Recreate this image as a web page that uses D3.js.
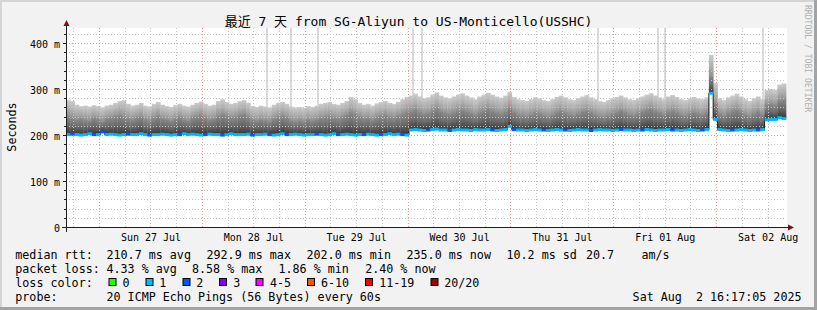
<!DOCTYPE html>
<html>
<head>
<meta charset="utf-8">
<script src="https://cdn.jsdelivr.net/npm/d3@7"></script>
<style>
  html, body { margin: 0; padding: 0; background: #f2f2f2; }
  svg { display: block; }
  text { font-family: "DejaVu Sans Mono", "Noto Sans CJK SC", monospace; white-space: pre; }
</style>
</head>
<body>
<div id="canvas"></div>
<script>
// time span of the graph (last 7 days), one column per hour
const startTime = new Date("2025-07-26T16:17:05Z");
const endTime = new Date("2025-08-02T16:17:05Z");

// median rtt per hour (ms)
const median = [
  203,204,203,202,203,205,203,203, 209,203,204,203,202,203,204,203,
  203,205,203,202,203,203,204,203, 202,203,203,205,203,204,203,202,
  203,204,203,203,202,203,205,203, 203,203,204,202,203,203,204,203,
  202,203,205,203,203,204,203,202, 203,203,204,203,202,203,205,203,
  203,204,203,202,203,203,204,203, 202,203,203,205,203,204,203,202,
  213,214,213,212,213,214,215,213, 213,212,213,214,213,213,212,214,
  213,213,214,213,212,213,214,221,
  214,213,213,212,213,214,213,213, 212,213,214,213,213,212,213,214,
  213,213,212,213,214,213,213,212, 213,214,213,213,212,213,213,214,
  213,212,213,213,214,213,213,212, 213,214,213,212,213,214,
  293,236,
  214,213,212,213,213,214,213,212,213,213,214,
  235,236,236,240,238
];

// middle of the smoke (dense part) per hour (ms)
const smokeMid = [
  245,240,236,238,235,234,240,236, 232,238,240,244,246,242,238,236,
  240,243,236,234,240,244,238,236, 233,238,242,236,234,240,243,246,
  240,236,238,245,248,244,240,242, 246,248,242,236,233,236,234,232,
  238,242,244,240,234,232,234,231, 236,234,236,240,242,244,240,238,
  242,246,252,248,242,238,240,236, 241,244,246,242,240,244,248,252,
  254,258,252,248,250,256,260,254, 250,248,252,256,258,254,250,246,
  252,256,260,256,252,249,254,262,
  252,247,245,243,247,251,249,245, 243,247,252,255,251,247,245,249,
  253,256,251,247,243,241,245,249, 252,255,251,247,245,249,253,257,
  260,255,251,247,253,256,252,247, 245,249,252,249,247,251,
  330,272,
  249,245,251,255,258,253,247,243,249,253,247,
  268,270,268,278,280
];

// highest ping of the smoke per hour (ms)
const smokeTop = [
  278,276,268,265,266,264,267,265, 262,266,268,272,276,278,270,266,
  268,272,266,264,270,274,268,265, 263,267,270,266,264,268,272,275,
  270,266,268,276,280,274,270,272, 276,278,272,265,263,266,264,262,
  268,272,274,270,264,262,263,261, 265,263,266,270,272,274,270,268,
  272,276,285,280,272,268,270,266, 271,274,276,272,270,274,280,285,
  288,292,286,282,284,290,295,288, 284,282,286,290,293,288,284,280,
  286,290,294,290,286,283,288,296,
  285,280,278,276,280,284,282,278, 276,280,285,288,284,280,278,282,
  286,289,284,280,276,274,278,282, 285,288,284,280,278,282,286,290,
  293,288,284,280,286,289,285,280, 278,282,285,282,280,284,
  376,315,
  282,278,284,288,292,286,280,276,282,286,280,
  300,302,300,312,314
];

// lost pings (of 20) per hour
const loss = [
  1,2,1,1,1,1,2,1,2,1,1,1,1,1,2,1,1,1,1,2,1,1,1,1,
  1,1,2,1,1,1,1,1,2,1,1,1,2,1,1,1,1,1,1,2,1,1,1,2,
  1,1,1,2,1,1,1,1,1,1,2,1,1,1,1,2,1,1,1,1,1,2,1,1,
  1,2,1,1,1,1,2,1,1,1,1,1,2,1,1,1,1,2,1,1,1,1,1,1,
  1,1,1,2,1,1,1,1,2,1,1,1,1,1,1,2,1,1,1,1,2,1,1,1,
  1,1,2,1,1,1,1,1,1,2,1,1,1,1,2,1,1,1,1,1,1,2,1,1,
  1,1,1,1,2,1,1,1,1,1,1,2,1,1,1,1,1,2,1,1,1,1,1,1
];

// single pings above the top of the graph
const outliers = [
  "2025-07-28T15:10:00Z", "2025-07-28T20:45:00Z", "2025-07-29T03:05:00Z",
  "2025-07-30T01:15:00Z", "2025-07-30T03:20:00Z", "2025-07-31T20:20:00Z",
  "2025-08-01T10:20:00Z", "2025-08-01T12:05:00Z", "2025-08-02T10:50:00Z"
];

const yTicks = [0, 100, 200, 300, 400];
const dayTicks = ["2025-07-27", "2025-07-28", "2025-07-29", "2025-07-30", "2025-07-31", "2025-08-01", "2025-08-02"];

const lossLabels = ["0", "1", "2", "3", "4-5", "6-10", "11-19", "20/20"];
const lossLimits = [0, 1, 2, 3, 5, 10, 19, 20];
const lossColors = ["#26ff00", "#00b8ff", "#0059ff", "#7e00ff", "#ff00ff", "#ff5500", "#ff0000", "#a10000"];

const rttStats = ["210.7 ms avg", "292.9 ms max", "202.0 ms min", "235.0 ms now", "10.2 ms sd", "20.7", "am/s"];
const lossStats = ["4.33 % avg", "8.58 % max", "1.86 % min", "2.40 % now"];
const probeText = "20 ICMP Echo Pings (56 Bytes) every 60s";
const stampText = "Sat Aug  2 16:17:05 2025";
const title = "最近 7 天 from SG-Aliyun to US-Monticello(USSHC)";

const width = 817;
const height = 310;
const left = 66, right = 786, top0 = 28, bottom = 228;

const svg = d3.select("#canvas").append("svg")
  .attr("width", width)
  .attr("height", height);

// background + frame
svg.append("rect").attr("width", width).attr("height", height).attr("fill", "#f2f2f2");
svg.append("rect").attr("x", 0).attr("y", 0).attr("width", width).attr("height", 2).attr("fill", "#d4d4d4");
svg.append("rect").attr("x", 0).attr("y", 0).attr("width", 2).attr("height", height).attr("fill", "#d4d4d4");
svg.append("rect").attr("x", 0).attr("y", height - 3).attr("width", width).attr("height", 3).attr("fill", "#a3a3a3");
svg.append("rect").attr("x", width - 3).attr("y", 0).attr("width", 3).attr("height", height).attr("fill", "#a3a3a3");

const x = d3.scaleUtc().domain([startTime, endTime]).range([left, right]);
const y = d3.scaleLinear().domain([0, 200 / 0.46]).range([bottom, top0]);

const hour = 3600 * 1000;
const times = median.map((d, i) => new Date(+startTime + i * hour));

svg.append("rect")
  .attr("x", left).attr("y", top0)
  .attr("width", right - left + 1).attr("height", bottom - top0)
  .attr("fill", "#ffffff");

const defs = svg.append("defs");
function gradient(id, stops) {
  const gr = defs.append("linearGradient").attr("id", id)
    .attr("x1", 0).attr("y1", 0).attr("x2", 0).attr("y2", 1);
  stops.forEach(s => gr.append("stop").attr("offset", s[0]).attr("stop-color", s[1]));
}
gradient("smokeHi", [[0, "#cbcbcb"], [0.5, "#b0b0b0"], [1, "#8e8e8e"]]);
gradient("smokeLo", [[0, "#8a8a8a"], [0.5, "#6a6a6a"], [0.85, "#454545"], [1, "#2c2c2c"]]);

const g = svg.append("g");

// outlier pings: light bars reaching the top
g.selectAll(".outlier")
  .data(outliers.map(d => new Date(d)))
  .enter()
  .append("rect")
  .attr("x", d => Math.round(x(d)) - 1)
  .attr("y", top0)
  .attr("width", 2)
  .attr("height", d => {
    const i = Math.min(median.length - 1, Math.floor((d - startTime) / hour));
    return y(median[i]) - top0;
  })
  .attr("fill", "#dadada");

const colW = d => x(new Date(+d + hour)) - x(d) + 0.4;

// smoke: light upper part, dense lower part
g.selectAll(".smokeHi")
  .data(times)
  .enter()
  .append("rect")
  .attr("x", d => x(d))
  .attr("width", colW)
  .attr("y", (d, i) => y(smokeTop[i]))
  .attr("height", (d, i) => y(smokeMid[i]) - y(smokeTop[i]) + 0.5)
  .attr("fill", "url(#smokeHi)");

g.selectAll(".smokeLo")
  .data(times)
  .enter()
  .append("rect")
  .attr("x", d => x(d))
  .attr("width", colW)
  .attr("y", (d, i) => y(smokeMid[i]))
  .attr("height", (d, i) => y(median[i]) - y(smokeMid[i]))
  .attr("fill", "url(#smokeLo)");

// grid
const grid = svg.append("g");
const minorY = d3.range(20, 440, 20).filter(v => v % 100 !== 0);
grid.selectAll(".hminor").data(minorY).enter().append("line")
  .attr("x1", left).attr("x2", right)
  .attr("y1", d => Math.round(y(d)) - 0.5).attr("y2", d => Math.round(y(d)) - 0.5)
  .attr("stroke", "#c4c4c4").attr("stroke-dasharray", "1,2");
const sixHours = d3.utcHour.every(6).range(startTime, endTime).filter(d => d.getUTCHours() !== 0);
grid.selectAll(".vminor").data(sixHours).enter().append("line")
  .attr("x1", d => Math.round(x(d)) + 0.5).attr("x2", d => Math.round(x(d)) + 0.5)
  .attr("y1", top0).attr("y2", bottom)
  .attr("stroke", "#c4c4c4").attr("stroke-dasharray", "1,2");
grid.selectAll(".hmajor").data(yTicks.filter(v => v > 0)).enter().append("line")
  .attr("x1", left).attr("x2", right)
  .attr("y1", d => Math.round(y(d)) - 0.5).attr("y2", d => Math.round(y(d)) - 0.5)
  .attr("stroke", "#e79a9a").attr("stroke-dasharray", "1,2");
const midnights = d3.utcDay.range(startTime, endTime);
grid.selectAll(".vmajor").data(midnights).enter().append("line")
  .attr("x1", d => Math.round(x(d)) + 0.5).attr("x2", d => Math.round(x(d)) + 0.5)
  .attr("y1", top0).attr("y2", bottom)
  .attr("stroke", "#e79a9a").attr("stroke-dasharray", "1,2");

// median line (step) and loss coloured blocks
const pts = times.map((d, i) => [x(d), y(median[i])]);
pts.push([x(endTime), y(median[median.length - 1])]);
svg.append("path")
  .attr("d", d3.line().curve(d3.curveStepAfter)(pts))
  .attr("fill", "none")
  .attr("stroke", "#202020")
  .attr("stroke-width", 1);

const lossColor = n => lossColors[lossLimits.findIndex(l => n <= l)];
svg.selectAll(".loss")
  .data(times)
  .enter()
  .append("rect")
  .attr("x", d => x(d))
  .attr("width", d => x(new Date(+d + hour)) - x(d) + 0.3)
  .attr("y", (d, i) => y(median[i]) - 1.5)
  .attr("height", 3)
  .attr("fill", (d, i) => lossColor(loss[i]));

// axes
const axisCol = "#202020";
svg.append("line").attr("x1", left - 4).attr("x2", right + 3)
  .attr("y1", bottom - 0.5).attr("y2", bottom - 0.5)
  .attr("stroke", axisCol);
svg.append("line").attr("x1", left + 0.5).attr("x2", left + 0.5)
  .attr("y1", bottom + 4).attr("y2", top0 - 4)
  .attr("stroke", axisCol);
svg.append("path").attr("d", `M${right + 2},${bottom - 3.5} L${right + 8},${bottom - 0.5} L${right + 2},${bottom + 2.5} Z`)
  .attr("fill", "#7f1010");
svg.append("path").attr("d", `M${left - 2.5},${top0 - 2} L${left + 0.5},${top0 - 8} L${left + 3.5},${top0 - 2} Z`)
  .attr("fill", "#7f1010");

// small ticks on the y axis
svg.selectAll(".ytick").data(d3.range(0, 440, 20)).enter().append("line")
  .attr("x1", d => d % 100 === 0 ? left - 3 : left - 2).attr("x2", left)
  .attr("y1", d => Math.round(y(d)) - 0.5).attr("y2", d => Math.round(y(d)) - 0.5)
  .attr("stroke", axisCol);

const yAxis = svg.append("g")
  .attr("transform", `translate(${left},0)`)
  .call(d3.axisLeft(y).tickValues(yTicks).tickSize(0).tickPadding(6)
    .tickFormat(v => v === 0 ? "0" : v + " m"));
yAxis.select(".domain").remove();
yAxis.selectAll("text")
  .attr("dy", null)
  .attr("y", 3.5)
  .style("font-family", "DejaVu Sans Mono")
  .style("font-size", "10px")
  .attr("fill", "#000");

const noon = dayTicks.map(d => new Date(d + "T12:00:00Z"));
const xAxis = svg.append("g")
  .attr("transform", `translate(0,${bottom})`)
  .call(d3.axisBottom(x).tickValues(noon).tickSize(0).tickPadding(6)
    .tickFormat(d3.utcFormat("%a %d %b")));
xAxis.select(".domain").remove();
xAxis.selectAll("text")
  .attr("dy", null)
  .attr("y", 13)
  .style("font-family", "DejaVu Sans Mono")
  .style("font-size", "10px")
  .attr("fill", "#000");

// title, unit label, watermark
svg.append("text")
  .attr("x", 408.5).attr("y", 26)
  .attr("text-anchor", "middle")
  .style("font-size", "13px")
  .text(title);

svg.append("text")
  .attr("transform", "translate(15.5,127) rotate(-90)")
  .attr("text-anchor", "middle")
  .style("font-size", "11.7px")
  .text("Seconds");

svg.append("text")
  .attr("transform", "translate(804.5,5) rotate(90)")
  .style("font-size", "8.1px")
  .attr("fill", "#b0b0b0")
  .text("RRDTOOL / TOBI OETIKER");

// legend
const leg = svg.append("g").style("font-size", "11.7px");
const rows = [258.5, 272.5, 286.5, 300.5];
const heads = ["median rtt:", "packet loss:", "loss color:", "probe:"];
heads.forEach((h, i) => leg.append("text").attr("x", 15.3).attr("y", rows[i]).text(h));

const rttX = [106.5, 206.5, 306.5, 406.5, 506.5, 586, 641.5];
rttStats.forEach((s, i) => leg.append("text").attr("x", rttX[i]).attr("y", rows[0]).text(s));

const lossX = [106.5, 192, 278.5, 365.2];
lossStats.forEach((s, i) => leg.append("text").attr("x", lossX[i]).attr("y", rows[1]).text(s));

const swX = [109, 146, 183, 219.5, 256, 307.5, 365.5, 431];
const swLabelX = [122.5, 159.2, 196.2, 233.2, 270, 321, 379.2, 444.2];
lossLabels.forEach((l, i) => {
  leg.append("rect")
    .attr("x", swX[i]).attr("y", 278.5)
    .attr("width", 7).attr("height", 7)
    .attr("fill", lossColors[i])
    .attr("stroke", "#000");
  leg.append("text").attr("x", swLabelX[i]).attr("y", rows[2]).text(l);
});

leg.append("text").attr("x", 106.5).attr("y", rows[3]).text(probeText);
leg.append("text").attr("x", 801.5).attr("y", rows[3]).attr("text-anchor", "end").text(stampText);
</script>
</body>
</html>
